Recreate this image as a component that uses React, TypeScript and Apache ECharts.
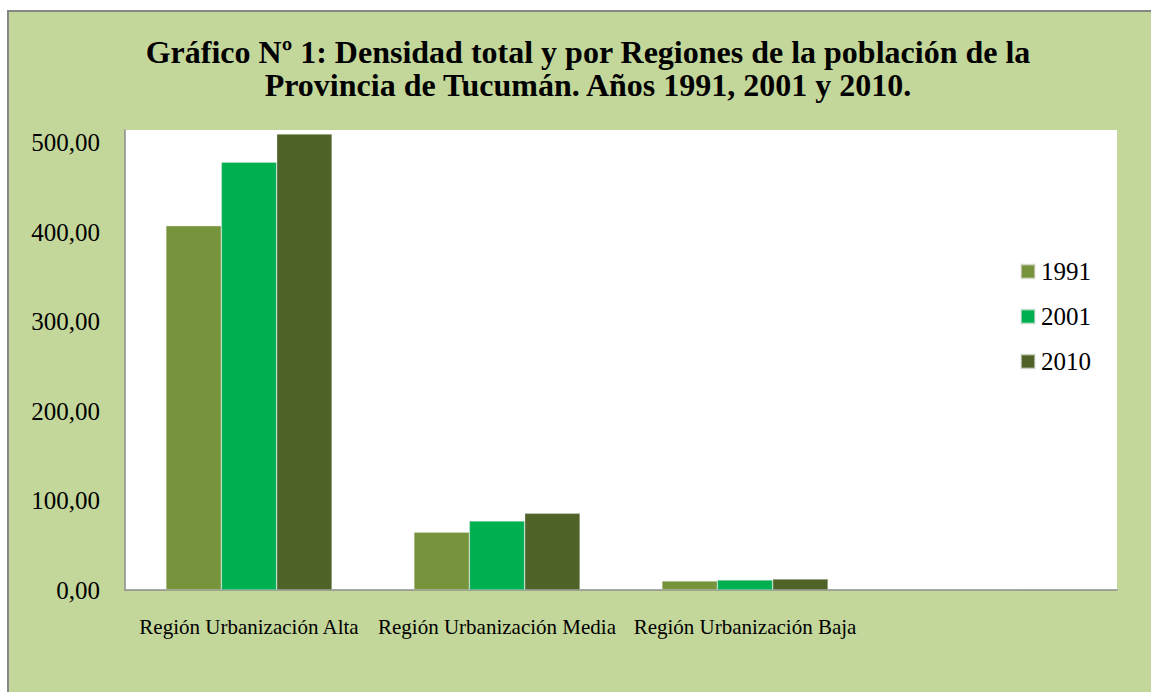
import React, { useEffect, useRef } from "react";
import * as echarts from "echarts";

const categories = [
  "Región Urbanización Alta",
  "Región Urbanización Media",
  "Región Urbanización Baja",
  "",
];
const years = ["1991", "2001", "2010"];
const values1991 = [407.0, 64.5, 10.0];
const values2001 = [478.0, 77.1, 11.2];
const values2010 = [509.5, 85.7, 12.3];
const yTicks = [0, 100, 200, 300, 400, 500];

const colors = ["#77933C", "#00B050", "#4F6228"];
const serif = "'Times New Roman', 'Liberation Serif', serif";

export default function App() {
  const ref = useRef<HTMLDivElement>(null);
  useEffect(() => {
    if (!ref.current) return;
    const chart = echarts.init(ref.current, null, { renderer: "svg" });
    const seriesData = [values1991, values2001, values2010];
    chart.setOption({
      animation: false,
      backgroundColor: "#ffffff",
      graphic: [
        {
          type: "rect",
          z: -10,
          silent: true,
          shape: { x: 8, y: 11, width: 1170, height: 720 },
          style: { fill: "#C4D79B", stroke: "#878787", lineWidth: 2 },
        },
      ],
      title: {
        text: "Gráfico Nº 1: Densidad total y por Regiones de la población de la\nProvincia de Tucumán. Años 1991, 2001 y 2010.",
        left: 583,
        top: 30,
        textAlign: "center",
        textStyle: {
          fontFamily: serif,
          fontSize: 32,
          fontWeight: "bold",
          color: "#000",
          lineHeight: 33,
        },
      },
      legend: {
        orient: "vertical",
        left: 1020,
        top: 259,
        padding: 0,
        itemWidth: 14,
        itemHeight: 14,
        itemGap: 20,
        icon: "rect",
        data: years,
        textStyle: {
          fontFamily: serif,
          fontSize: 25,
          lineHeight: 25,
          color: "#000",
          padding: [0, 0, 0, 1],
        },
      },
      grid: {
        left: 125,
        top: 130,
        right: 34,
        bottom: 102,
        show: true,
        backgroundColor: "#ffffff",
        borderWidth: 0,
      },
      xAxis: {
        type: "category",
        data: categories,
        axisLine: { show: true, lineStyle: { color: "#8C8C8C", width: 1.5 } },
        axisTick: { show: false },
        axisLabel: {
          interval: 0,
          margin: 26,
          fontFamily: serif,
          fontSize: 21,
          color: "#000",
        },
      },
      yAxis: {
        type: "value",
        min: 0,
        max: 514,
        interval: 100,
        splitLine: { show: false },
        axisLine: { show: true, lineStyle: { color: "#8C8C8C", width: 1.5 } },
        axisTick: { show: false },
        axisLabel: {
          margin: 25,
          fontFamily: serif,
          fontSize: 25,
          color: "#000",
          padding: [3, 0, 0, 0],
          formatter: (v: number) =>
            yTicks.includes(v) ? v.toFixed(2).replace(".", ",") : "",
        },
      },
      series: years.map((y, i) => ({
        name: y,
        type: "bar",
        data: seriesData[i],
        barGap: "0%",
        barCategoryGap: "33%",
        itemStyle: {
          color: colors[i],
          borderColor: "rgba(230,230,230,0.6)",
          borderWidth: 0.6,
        },
      })),
    });
    return () => chart.dispose();
  }, []);
  return (
    <div
      ref={ref}
      style={{ position: "absolute", left: 0, top: 0, width: 1151, height: 692 }}
    />
  );
}
